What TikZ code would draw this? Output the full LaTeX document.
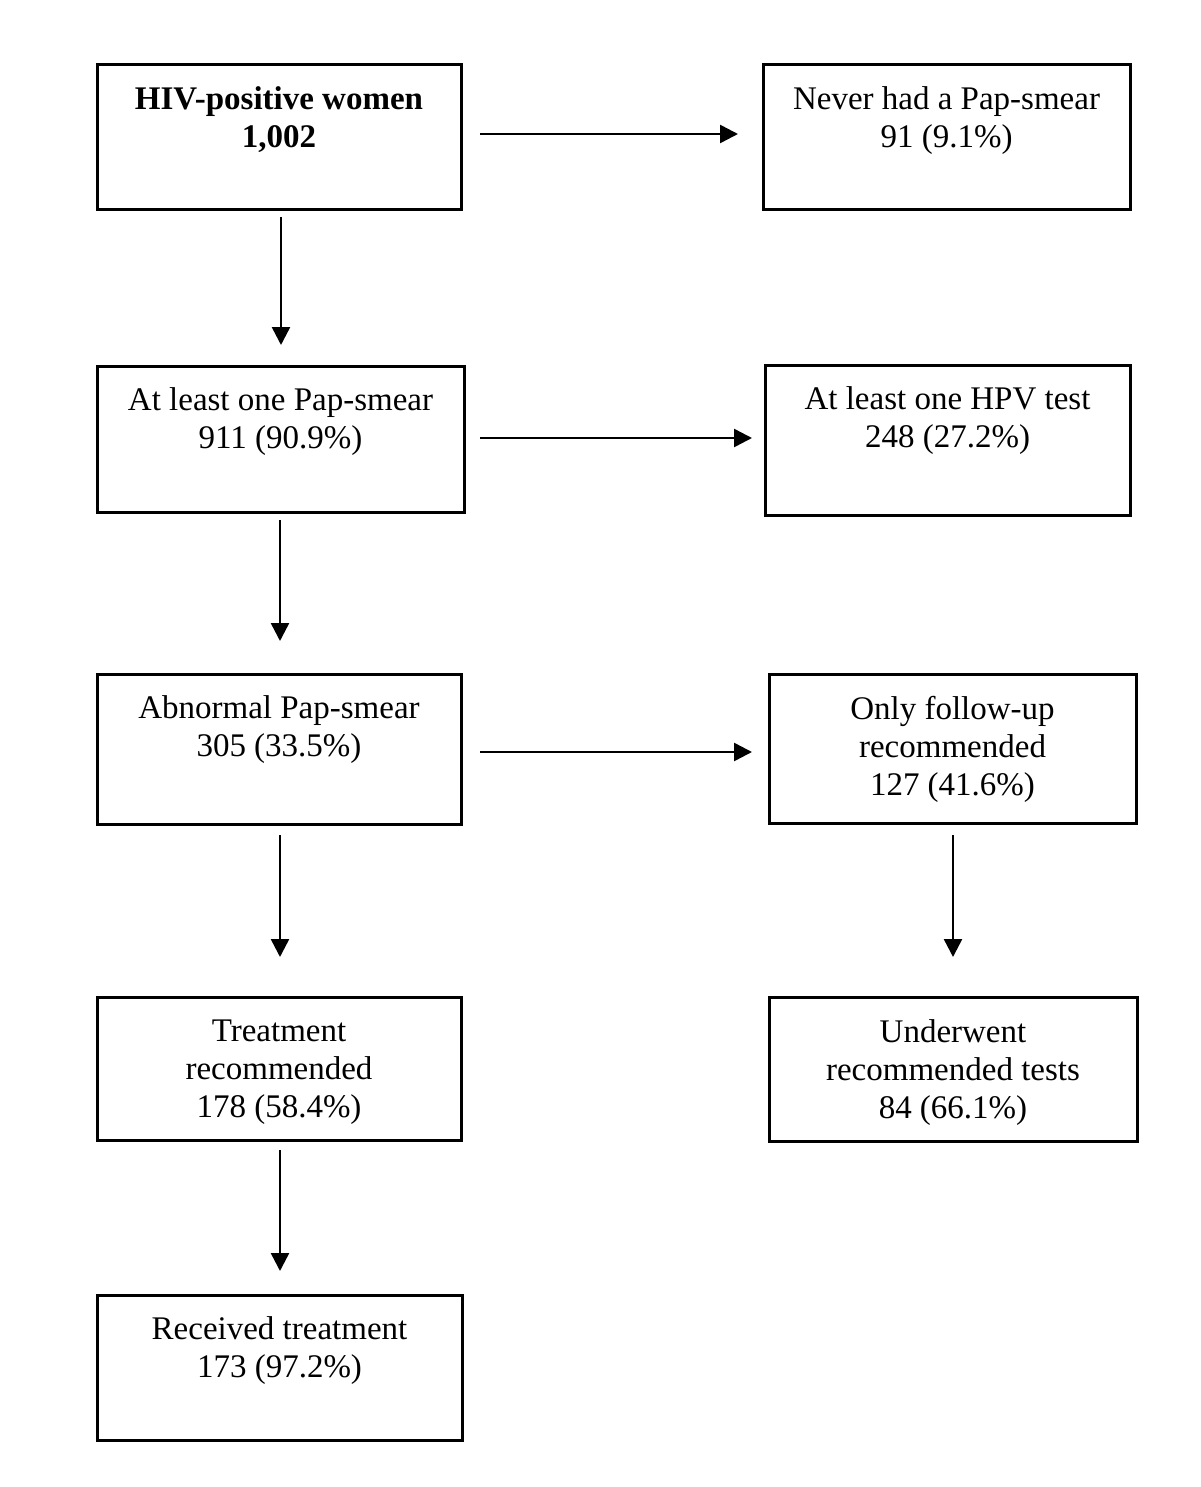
\documentclass[tikz,border=0pt]{standalone}
\usepackage{fontspec}
\setmainfont{Liberation Serif}
\usetikzlibrary{arrows.meta}
\begin{document}
\begin{tikzpicture}[x=1pt,y=-1pt,
  box/.style={draw=black,line width=3pt,inner sep=0pt,outer sep=0pt,rectangle},
  txt/.style={anchor=north,inner sep=0pt,outer sep=0pt,align=center,font=\fontsize{33}{38}\selectfont},
  arr/.style={line width=2.5pt,-{Triangle[length=18pt,width=18pt]}}]
\useasboundingbox (0,0) rectangle (1200,1487);
\fill[white] (0,0) rectangle (1200,1487);
% boxes
\node[box,minimum width=364,minimum height=145] (b1) at (279,137.5) {};
\node[box,minimum width=367,minimum height=145] (b2) at (946.5,137.5) {};
\node[box,minimum width=367,minimum height=146] (b3) at (280.5,439) {};
\node[box,minimum width=365,minimum height=150] (b4) at (947.5,440) {};
\node[box,minimum width=364,minimum height=150] (b5) at (279,749) {};
\node[box,minimum width=367,minimum height=149] (b6) at (952.5,748.5) {};
\node[box,minimum width=364,minimum height=143] (b7) at (279,1068.5) {};
\node[box,minimum width=368,minimum height=144] (b8) at (953,1069) {};
\node[box,minimum width=365,minimum height=145] (b9) at (279.5,1367.5) {};
% texts
\node[txt,font=\fontsize{33}{38}\selectfont\bfseries] (t1) at ([yshift=-22pt]b1.north) {HIV-positive women\\1,002};
\node[txt] (t2) at ([yshift=-22pt]b2.north) {Never had a Pap-smear\\91 (9.1\%)};
\node[txt] (t3) at ([yshift=-22pt]b3.north) {At least one Pap-smear\\911 (90.9\%)};
\node[txt] (t4) at ([yshift=-22pt]b4.north) {At least one HPV test\\248 (27.2\%)};
\node[txt] (t5) at ([yshift=-22pt]b5.north) {Abnormal Pap-smear\\305 (33.5\%)};
\node[txt] (t6) at ([yshift=-22pt]b6.north) {Only follow-up\\recommended\\127 (41.6\%)};
\node[txt] (t7) at ([yshift=-22.5pt]b7.north) {Treatment\\recommended\\178 (58.4\%)};
\node[txt] (t8) at ([yshift=-22.5pt]b8.north) {Underwent\\recommended tests\\84 (66.1\%)};
\node[txt] (t9) at ([yshift=-22pt]b9.north) {Received treatment\\173 (97.2\%)};
% horizontal arrows
\draw[arr] ([xshift=19pt,yshift=3.5pt]b1.east) -- ([xshift=-25pt,yshift=3.5pt]b2.west);
\draw[arr] ([xshift=16pt,yshift=1pt]b3.east) -- ([xshift=-13pt,yshift=2pt]b4.west);
\draw[arr] ([xshift=19pt,yshift=-3pt]b5.east) -- ([xshift=-17pt,yshift=-3.5pt]b6.west);
% vertical arrows
\draw[arr] ([xshift=2pt,yshift=-7pt]b1.south) -- ([xshift=0.5pt,yshift=21pt]b3.north);
\draw[arr] ([xshift=-0.5pt,yshift=-8pt]b3.south) -- ([xshift=1pt,yshift=33pt]b5.north);
\draw[arr] ([xshift=1pt,yshift=-11pt]b5.south) -- ([xshift=1pt,yshift=40pt]b7.north);
\draw[arr] ([xshift=0.5pt,yshift=-12pt]b6.south) -- ([xshift=0pt,yshift=40pt]b8.north);
\draw[arr] ([xshift=1pt,yshift=-10pt]b7.south) -- ([xshift=0.5pt,yshift=24pt]b9.north);
\end{tikzpicture}
\end{document}
